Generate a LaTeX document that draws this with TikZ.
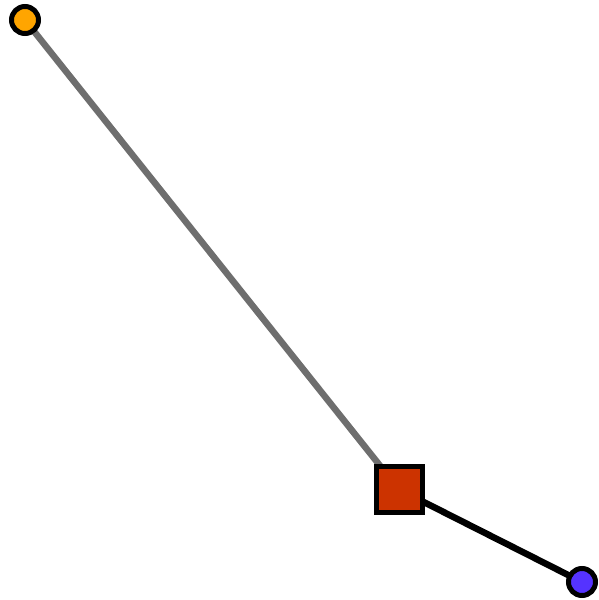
\documentclass[tikz,border=0pt]{standalone}
\usetikzlibrary{backgrounds}
\definecolor{orangeC}{HTML}{FFA500}
\definecolor{redC}{HTML}{CC3300}
\definecolor{blueC}{HTML}{5533FF}
\definecolor{grayC}{HTML}{6E6E6E}
\tikzset{
  dot/.style={circle, draw=black, line width=5pt, minimum size=27pt, inner sep=0pt},
  sq/.style={rectangle, draw=black, line width=5pt, minimum size=46pt, inner sep=0pt, fill=redC},
  edge/.style={line width=6.5pt}
}
\begin{document}
\begin{tikzpicture}[x=1pt,y=-1pt]
\useasboundingbox (0,0) rectangle (598,600);
\node[dot, fill=orangeC] (a) at (25,20) {};
\node[sq] (b) at (399,489.5) {};
\node[dot, fill=blueC] (c) at (582,582) {};
\begin{scope}[on background layer]
\draw[edge, draw=grayC] (a.center) -- (b.center);
\draw[edge, draw=black] (b.center) -- (c.center);
\end{scope}
\end{tikzpicture}
\end{document}
